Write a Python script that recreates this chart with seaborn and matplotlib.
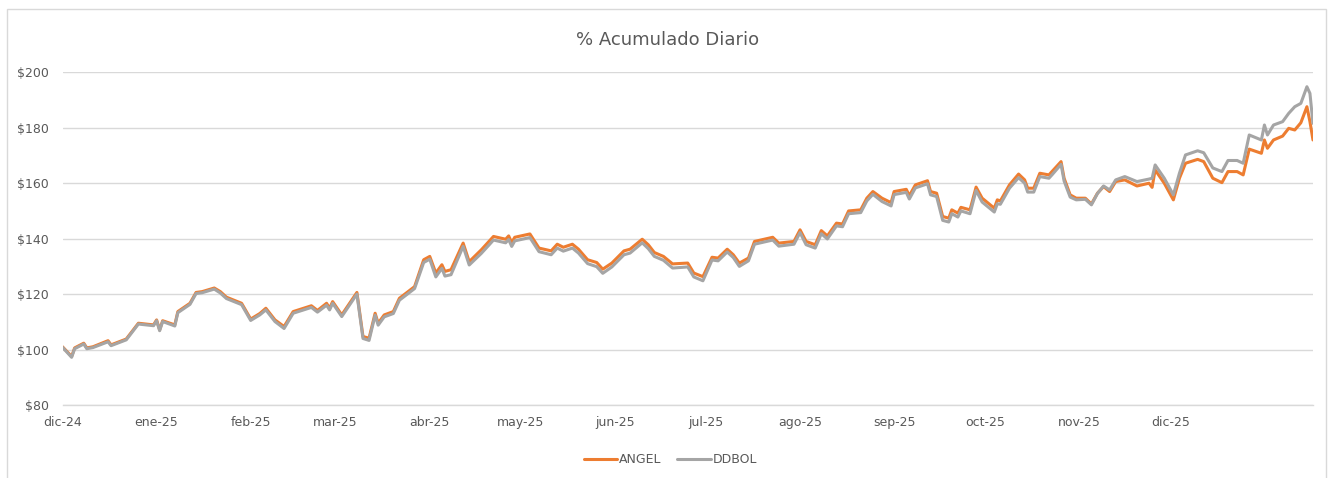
import pandas as pd
import matplotlib
matplotlib.use("Agg")
import matplotlib.pyplot as plt
import matplotlib.dates as mdates
from matplotlib.patches import Rectangle
import seaborn as sns

# Datos
fechas = [
    "2024-12-01", "2024-12-04", "2024-12-05", "2024-12-08", "2024-12-09", "2024-12-11",
    "2024-12-16", "2024-12-17", "2024-12-22", "2024-12-26", "2024-12-31", "2025-01-01",
    "2025-01-02", "2025-01-03", "2025-01-07", "2025-01-08", "2025-01-12", "2025-01-14",
    "2025-01-16", "2025-01-20", "2025-01-22", "2025-01-24", "2025-01-29", "2025-02-01",
    "2025-02-04", "2025-02-06", "2025-02-09", "2025-02-12", "2025-02-15", "2025-02-21",
    "2025-02-23", "2025-02-26", "2025-02-27", "2025-02-28", "2025-03-03", "2025-03-08",
    "2025-03-10", "2025-03-12", "2025-03-14", "2025-03-15", "2025-03-17", "2025-03-20",
    "2025-03-22", "2025-03-27", "2025-03-30", "2025-04-01", "2025-04-03", "2025-04-05",
    "2025-04-06", "2025-04-08", "2025-04-12", "2025-04-14", "2025-04-18", "2025-04-22",
    "2025-04-26", "2025-04-27", "2025-04-28", "2025-04-29", "2025-05-04", "2025-05-07",
    "2025-05-11", "2025-05-13", "2025-05-15", "2025-05-18", "2025-05-20", "2025-05-23",
    "2025-05-26", "2025-05-28", "2025-05-31", "2025-06-04", "2025-06-06", "2025-06-10",
    "2025-06-12", "2025-06-14", "2025-06-17", "2025-06-20", "2025-06-25", "2025-06-27",
    "2025-06-30", "2025-07-03", "2025-07-05", "2025-07-08", "2025-07-10", "2025-07-12",
    "2025-07-15", "2025-07-17", "2025-07-23", "2025-07-25", "2025-07-30", "2025-08-01",
    "2025-08-03", "2025-08-06", "2025-08-08", "2025-08-10", "2025-08-13", "2025-08-15",
    "2025-08-17", "2025-08-21", "2025-08-23", "2025-08-25", "2025-08-28", "2025-08-31",
    "2025-09-01", "2025-09-05", "2025-09-06", "2025-09-08", "2025-09-12", "2025-09-13",
    "2025-09-15", "2025-09-17", "2025-09-19", "2025-09-20", "2025-09-22", "2025-09-23",
    "2025-09-26", "2025-09-28", "2025-09-30", "2025-10-04", "2025-10-05", "2025-10-06",
    "2025-10-09", "2025-10-12", "2025-10-14", "2025-10-15", "2025-10-17", "2025-10-19",
    "2025-10-22", "2025-10-23", "2025-10-26", "2025-10-27", "2025-10-29", "2025-10-31",
    "2025-11-03", "2025-11-05", "2025-11-07", "2025-11-09", "2025-11-11", "2025-11-13",
    "2025-11-16", "2025-11-20", "2025-11-24", "2025-11-25", "2025-11-26", "2025-11-29",
    "2025-12-02", "2025-12-04", "2025-12-06", "2025-12-10", "2025-12-12", "2025-12-15",
    "2025-12-18", "2025-12-20", "2025-12-23", "2025-12-25", "2025-12-27", "2025-12-31",
    "2026-01-01", "2026-01-02", "2026-01-04", "2026-01-07", "2026-01-09", "2026-01-11",
    "2026-01-13", "2026-01-15", "2026-01-16", "2026-01-17",
]

angel = [
    101.0, 97.5, 100.6, 102.3, 100.6, 101.0,
    103.2, 101.7, 103.8, 109.5, 108.9, 110.7,
    107.1, 110.4, 108.9, 113.7, 116.7, 120.6,
    120.9, 122.2, 120.9, 118.9, 116.7, 111.0,
    113.0, 114.9, 110.7, 108.3, 113.7, 115.8,
    114.1, 116.7, 114.9, 117.3, 112.5, 120.6,
    104.7, 104.1, 113.1, 109.5, 112.5, 113.7,
    118.5, 122.7, 132.4, 133.6, 127.6, 130.6,
    128.2, 128.8, 138.4, 131.7, 136.0, 140.8,
    139.8, 141.0, 138.6, 140.5, 141.7, 136.6,
    135.6, 138.0, 136.9, 138.0, 136.2, 132.4,
    131.4, 129.0, 131.2, 135.6, 136.2, 139.8,
    137.8, 135.0, 133.6, 130.9, 131.2, 127.6,
    126.3, 133.3, 133.0, 136.2, 134.2, 131.2,
    133.0, 139.0, 140.5, 138.4, 139.0, 143.2,
    139.0, 137.8, 142.9, 141.0, 145.6, 145.3,
    150.0, 150.4, 154.6, 157.0, 154.6, 153.0,
    157.0, 157.8, 155.5, 159.4, 160.9, 157.0,
    156.4, 148.0, 147.4, 150.4, 149.2, 151.3,
    150.4, 158.6, 154.6, 151.0, 154.0, 153.6,
    159.4, 163.3, 161.2, 158.2, 158.2, 163.6,
    163.0, 164.2, 167.8, 161.8, 155.8, 154.6,
    154.6, 152.5, 156.4, 158.8, 157.0, 160.6,
    161.2, 159.0, 160.0, 158.5, 164.8, 160.0,
    154.0, 161.8, 167.2, 168.6, 167.8, 161.8,
    160.2, 164.2, 164.2, 163.0, 172.3, 170.8,
    175.6, 172.6, 175.6, 177.0, 179.8, 179.2,
    181.8, 187.6, 182.2, 175.6,
]

ddbol = [
    100.8, 97.2, 100.3, 102.0, 100.3, 100.7,
    102.8, 101.4, 103.5, 109.2, 108.6, 110.4,
    106.8, 110.1, 108.5, 113.3, 116.3, 120.2,
    120.5, 121.8, 120.4, 118.4, 116.2, 110.5,
    112.5, 114.3, 110.1, 107.6, 113.1, 115.2,
    113.5, 116.0, 114.3, 116.7, 111.9, 120.0,
    104.0, 103.3, 112.4, 108.8, 111.8, 113.0,
    117.8, 122.0, 131.4, 132.6, 126.2, 129.3,
    126.5, 127.0, 137.2, 130.5, 134.7, 139.5,
    138.5, 139.7, 137.2, 139.2, 140.4, 135.3,
    134.2, 136.6, 135.5, 136.6, 134.8, 131.0,
    129.9, 127.5, 129.8, 134.2, 134.8, 138.5,
    136.4, 133.6, 132.2, 129.4, 129.8, 126.2,
    124.8, 132.3, 132.0, 135.2, 133.2, 130.0,
    132.0, 138.0, 139.5, 137.3, 138.0, 142.2,
    137.8, 136.6, 141.8, 139.9, 144.6, 144.3,
    149.0, 149.4, 153.6, 156.0, 153.4, 151.8,
    155.9, 156.7, 154.3, 158.3, 159.8, 155.8,
    155.2, 146.6, 146.0, 149.0, 147.8, 150.0,
    149.0, 157.4, 153.2, 149.6, 152.6, 152.4,
    158.2, 162.0, 160.0, 156.8, 156.8, 162.4,
    161.8, 163.0, 166.8, 160.8, 155.0, 154.0,
    154.2, 152.2, 156.3, 159.0, 157.6, 161.2,
    162.4, 160.6, 161.5, 161.8, 166.6, 161.8,
    155.8, 163.6, 170.2, 171.7, 171.0, 165.5,
    164.2, 168.2, 168.2, 167.2, 177.4, 175.6,
    181.0, 177.4, 181.0, 182.2, 185.2, 187.6,
    188.8, 194.8, 192.4, 181.6,
]

series = ["ANGEL", "DDBOL"]
colores = ["#ED7D31", "#A5A5A5"]

meses = ["2024-12-01", "2025-01-01", "2025-02-01", "2025-03-01", "2025-04-01",
         "2025-05-01", "2025-06-01", "2025-07-01", "2025-08-01", "2025-09-01",
         "2025-10-01", "2025-11-01", "2025-12-01"]
meses_lbl = ["dic-24", "ene-25", "feb-25", "mar-25", "abr-25", "may-25", "jun-25",
             "jul-25", "ago-25", "sep-25", "oct-25", "nov-25", "dic-25"]
y_ticks = [80, 100, 120, 140, 160, 180, 200]

df = pd.DataFrame({
    "fecha": pd.to_datetime(fechas * 2),
    "valor": angel + ddbol,
    "serie": [series[0]] * len(angel) + [series[1]] * len(ddbol),
})

sns.set_theme(style="white")
plt.rcParams['font.family'] = ['DejaVu Sans']

txt = "#595959"
grid = "#D9D9D9"

fig = plt.figure(figsize=(13.3, 4.78), dpi=100)
ax = fig.add_axes([0.047, 0.1527, 0.9402, 0.696])

sns.lineplot(data=df, x="fecha", y="valor", hue="serie", palette=colores,
             linewidth=2.2, ax=ax, legend=True)

ax.set_ylim(80, 200)
ax.set_yticks(y_ticks)
ax.set_yticklabels([f"${v}" for v in y_ticks])
ax.set_xlim(pd.Timestamp(fechas[0]), pd.Timestamp(fechas[-1]))
ax.set_xticks(pd.to_datetime(meses))
ax.set_xticklabels(meses_lbl)

ax.yaxis.grid(True, color=grid, linewidth=1)
ax.set_axisbelow(True)
for s in ["top", "right", "left"]:
    ax.spines[s].set_visible(False)
ax.spines["bottom"].set_color(grid)
ax.spines["bottom"].set_linewidth(1)
ax.tick_params(axis="y", length=0, pad=10, labelsize=9, labelcolor=txt)
ax.tick_params(axis="x", length=4, width=1, color=grid, direction="out",
               pad=4, labelsize=9, labelcolor=txt)
ax.set_xlabel("")
ax.set_ylabel("")

fig.suptitle("% Acumulado Diario", x=0.502, y=0.935, fontsize=13, color=txt)

h, l = ax.get_legend_handles_labels()
ax.legend_.remove()
leg = fig.legend(h, l, loc="center", bbox_to_anchor=(0.504, 0.038), ncol=2,
                 frameon=False, fontsize=9, handlelength=2.7, handletextpad=0.15,
                 columnspacing=1.2)
for t in leg.get_texts():
    t.set_color(txt)

fig.patches.append(Rectangle((6.5 / 1330, -0.02), 1319 / 1330, 0.981 + 0.02,
                             transform=fig.transFigure, fill=False,
                             edgecolor=grid, linewidth=1))

fig.savefig("out.png", dpi=100)
